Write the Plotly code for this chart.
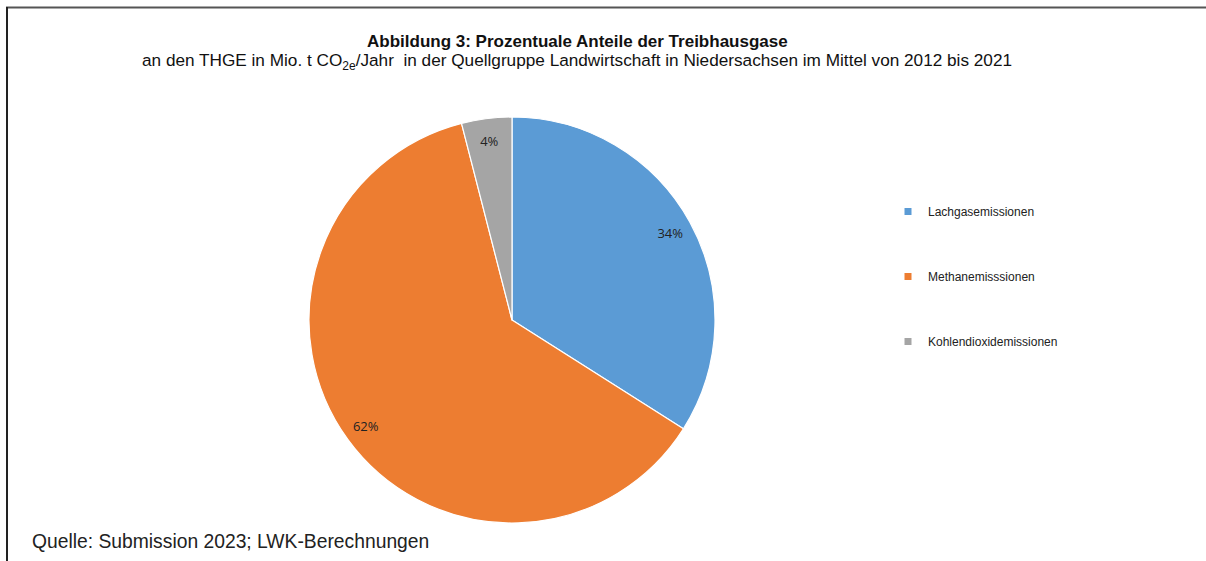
import plotly.graph_objects as go

labels = ["Lachgasemissionen", "Methanemisssionen", "Kohlendioxidemissionen"]
values = [34, 62, 4]
colors = ["#5B9BD5", "#ED7D31", "#A5A5A5"]

title_line1 = "<b>Abbildung 3: Prozentuale Anteile der Treibhausgase</b>"
title_line2 = ("an den THGE in Mio. t CO<sub>2e</sub>/Jahr  in der Quellgruppe Landwirtschaft "
               "in Niedersachsen im Mittel von 2012 bis 2021")
source_text = "Quelle: Submission 2023; LWK-Berechnungen"

W, H = 1206, 561


def px(x):
    return x / W


def py(y):
    return (H - y) / H


pie_domain = dict(x=[px(309), px(715)], y=[py(523), py(117)])

fig = go.Figure()
# coloured slices
fig.add_trace(go.Pie(
    labels=labels, values=values, sort=False, direction="clockwise", rotation=0,
    marker=dict(colors=colors, line=dict(color="white", width=1.2)),
    textinfo="none", showlegend=False, hoverinfo="label+percent",
    domain=pie_domain,
))
# transparent ring that carries the percentage labels near the outer edge
fig.add_trace(go.Pie(
    labels=labels, values=values, sort=False, direction="clockwise", rotation=0, hole=0.78,
    marker=dict(colors=["rgba(0,0,0,0)"] * len(values), line=dict(width=0)),
    texttemplate="%{percent:.0%}", textposition="inside", insidetextorientation="horizontal",
    textfont=dict(family="Open Sans", size=13, color="#222"),
    showlegend=False, hoverinfo="skip",
    domain=pie_domain,
))

for i, (lab, col) in enumerate(zip(labels, colors)):
    fig.add_trace(go.Scatter(
        x=[None], y=[None], mode="markers", name=lab,
        marker=dict(symbol="square", size=7, color=col),
        legendgroup=f"g{i}", showlegend=True,
    ))

fig.update_layout(
    width=W, height=H,
    margin=dict(l=0, r=0, t=0, b=0),
    paper_bgcolor="white", plot_bgcolor="white",
    xaxis=dict(visible=False), yaxis=dict(visible=False),
    legend=dict(
        x=px(888), y=py(197), xanchor="left", yanchor="top",
        font=dict(family="Liberation Sans", size=12, color="#222"),
        tracegroupgap=46, itemwidth=30, bgcolor="rgba(0,0,0,0)",
    ),
    annotations=[
        dict(text=title_line1, x=px(577), y=py(41), xref="paper", yref="paper",
             xanchor="center", yanchor="middle", showarrow=False,
             font=dict(family="Liberation Sans", size=17, color="#111")),
        dict(text=title_line2, x=px(577), y=py(61), xref="paper", yref="paper",
             xanchor="center", yanchor="middle", showarrow=False,
             font=dict(family="Liberation Sans", size=17.2, color="#111")),
        dict(text=source_text, x=px(30), y=py(541), xref="paper", yref="paper",
             xanchor="left", yanchor="middle", showarrow=False,
             font=dict(family="Liberation Sans", size=19.3, color="#222")),
    ],
    shapes=[
        dict(type="line", xref="paper", yref="paper", x0=px(6), x1=1, y0=py(7.5), y1=py(7.5),
             line=dict(color="#555", width=2)),
        dict(type="line", xref="paper", yref="paper", x0=px(7), x1=px(7), y0=0, y1=py(7),
             line=dict(color="#222", width=2)),
    ],
)

fig.write_html("out.html", config={"displayModeBar": False},
               post_script="document.body.style.margin='0px';")
